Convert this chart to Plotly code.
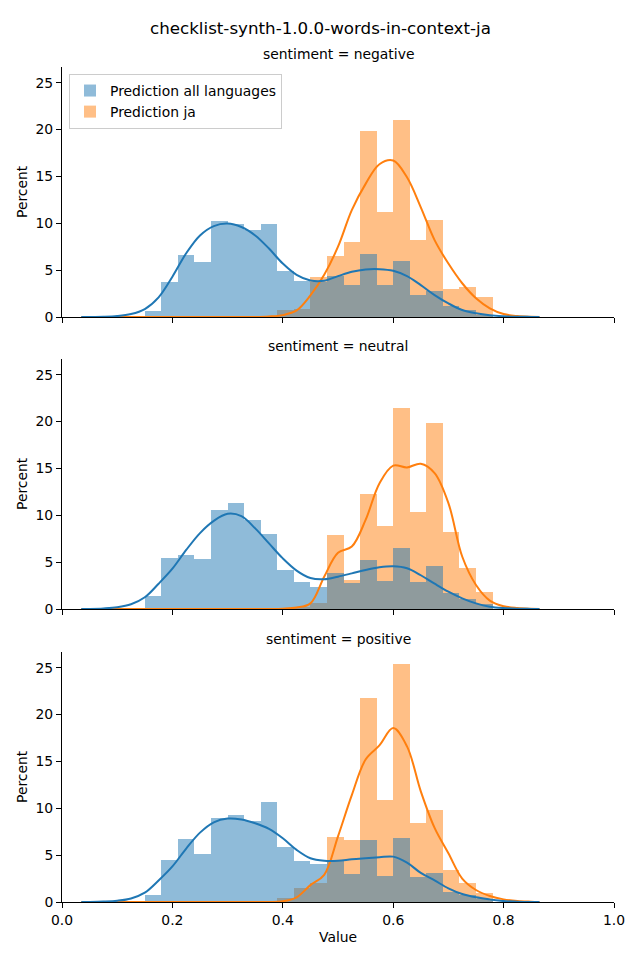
import plotly.graph_objects as go

# ---------------- data ----------------
title = "checklist-synth-1.0.0-words-in-context-ja"
panels = ["negative", "neutral", "positive"]
series_names = ["Prediction all languages", "Prediction ja"]

bin_edges = [0.15, 0.18, 0.21, 0.24, 0.27, 0.30, 0.33, 0.36, 0.39, 0.42, 0.45,
             0.48, 0.51, 0.54, 0.57, 0.60, 0.63, 0.66, 0.69, 0.72, 0.75, 0.78]

# histogram heights (percent) per bin
all_negative = [0.67, 3.76, 6.6, 5.9, 10.2, 9.97, 9.26, 9.9, 4.93, 3.87, 3.7,
                4.36, 3.4, 6.7, 3.4, 5.96, 2.4, 2.8, 1.2, 0.7, 0.2]
ja_negative = [0, 0, 0, 0, 0, 0, 0, 0, 0.74, 0.9, 4.22,
               6.5, 7.98, 19.8, 11.17, 21.06, 8.19, 10.3, 2.98, 3.2, 2.13]

all_neutral = [1.39, 5.45, 5.77, 5.34, 10.58, 11.32, 9.5, 8.05, 4.17, 2.92, 2.35,
               3.85, 2.78, 5.23, 2.99, 6.52, 2.88, 4.59, 1.71, 1.07, 0.53]
ja_neutral = [0, 0, 0, 0, 0, 0, 0, 0, 0, 0.25, 0.64,
              7.9, 3.1, 12.3, 8.9, 21.47, 10.36, 19.87, 8.23, 4.38, 1.82]

all_positive = [0.75, 4.49, 6.73, 5.13, 8.97, 9.29, 8.65, 10.68, 5.88, 4.38, 4.06,
                4.38, 2.99, 6.62, 2.78, 6.84, 2.67, 3.1, 1.07, 0.75, 0.32]
ja_positive = [0, 0, 0, 0, 0, 0, 0, 0, 0.4, 1.5, 2.03,
               6.94, 6.62, 21.8, 10.9, 25.4, 8.44, 9.83, 3.42, 2.03, 0.96]

# KDE curves (percent scale) read at these values
kde_x = [0.035, 0.05, 0.075, 0.1, 0.125, 0.15, 0.175, 0.2, 0.225, 0.25, 0.275,
         0.3, 0.325, 0.35, 0.375, 0.4, 0.425, 0.45, 0.475, 0.5, 0.525, 0.55,
         0.575, 0.6, 0.625, 0.65, 0.675, 0.7, 0.725, 0.75, 0.775, 0.8, 0.825,
         0.85, 0.865]

kde_all_negative = [0, 0, 0.02, 0.1, 0.32, 0.85, 2.1, 4.3, 6.8, 8.7, 9.7,
                    9.97, 9.6, 8.7, 7.3, 5.7, 4.5, 3.9, 3.87, 4.36, 4.82, 5.07,
                    5.1, 4.93, 4.36, 3.4, 2.34, 1.45, 0.74, 0.39, 0.18, 0.08, 0.03,
                    0.01, 0]
kde_ja_negative = [0, 0, 0, 0, 0, 0, 0, 0, 0, 0, 0,
                   0, 0, 0, 0.05, 0.2, 0.7, 2.3, 4.5, 7.5, 11.4, 14.2,
                   16.3, 16.7, 14.9, 11.7, 8.2, 5.7, 3.6, 2.0, 0.93, 0.32, 0.1,
                   0.02, 0]

kde_all_neutral = [0, 0.01, 0.06, 0.18, 0.5, 1.25, 2.7, 4.3, 6.3, 8.1, 9.4,
                   10.15, 9.9, 8.6, 7.0, 5.4, 4.1, 3.3, 3.17, 3.45, 3.8, 4.17,
                   4.45, 4.56, 4.35, 3.6, 2.7, 1.85, 1.14, 0.6, 0.25, 0.1, 0.03,
                   0.01, 0]
kde_ja_neutral = [0, 0, 0, 0, 0, 0, 0, 0, 0, 0, 0,
                  0, 0, 0, 0, 0.03, 0.15, 0.6, 3.45, 6.0, 6.66, 9.5,
                  13.4, 15.3, 15.1, 15.5, 14.5, 11.3, 5.6, 2.56, 0.9, 0.3, 0.1,
                  0.02, 0]

kde_all_positive = [0, 0.01, 0.05, 0.14, 0.38, 1.0, 2.3, 3.8, 5.7, 7.4, 8.5,
                    8.9, 8.8, 8.4, 7.8, 6.8, 5.56, 4.67, 4.4, 4.4, 4.56, 4.67,
                    4.77, 4.84, 4.2, 3.1, 2.3, 1.46, 0.85, 0.5, 0.28, 0.1, 0.04,
                    0.01, 0]
kde_ja_positive = [0, 0, 0, 0, 0, 0, 0, 0, 0, 0, 0,
                   0, 0, 0, 0, 0.07, 0.5, 1.8, 2.9, 7.0, 11.4, 15.2,
                   16.7, 18.55, 16.6, 11.8, 7.9, 5.2, 2.5, 1.28, 0.64, 0.28, 0.1,
                   0.03, 0]

x_ticks = [0.0, 0.2, 0.4, 0.6, 0.8, 1.0]
x_tick_labels = ["0.0", "0.2", "0.4", "0.6", "0.8", "1.0"]
y_ticks = [0, 5, 10, 15, 20, 25]
y_tick_labels = ["0", "5", "10", "15", "20", "25"]

hist_all = [all_negative, all_neutral, all_positive]
hist_ja = [ja_negative, ja_neutral, ja_positive]
kde_all = [kde_all_negative, kde_all_neutral, kde_all_positive]
kde_ja = [kde_ja_negative, kde_ja_neutral, kde_ja_positive]

# ---------------- styling ----------------
BLUE = "#1f77b4"
ORANGE = "#ff7f0e"
BLUE_FILL = "rgba(31,119,180,0.5)"
ORANGE_FILL = "rgba(255,127,14,0.5)"
FONT = "DejaVu Sans"
OFF = 8                      # page body margin
W, H = 640 - OFF, 960 - OFF  # figure size so it fits the window


def px_x(p):
    return (p - OFF) / W


def px_y(p):
    return 1 - (p - OFF) / H


centers = [(a + b) / 2 for a, b in zip(bin_edges[:-1], bin_edges[1:])]
widths = [b - a for a, b in zip(bin_edges[:-1], bin_edges[1:])]

# panel boxes in window pixels
x_left_px, x_right_px = 62, 614
panel_px = [(67, 317), (359, 609), (652, 902)]

fig = go.Figure()

for i in range(3):
    xa = "x" if i == 0 else f"x{i+1}"
    ya = "y" if i == 0 else f"y{i+1}"
    fig.add_trace(go.Bar(x=centers, y=hist_ja[i], width=widths, xaxis=xa, yaxis=ya,
                         marker=dict(color=ORANGE_FILL, line=dict(width=0)),
                         name=series_names[1], legendgroup="ja", legendrank=2,
                         showlegend=(i == 0), hoverinfo="skip"))
    fig.add_trace(go.Bar(x=centers, y=hist_all[i], width=widths, xaxis=xa, yaxis=ya,
                         marker=dict(color=BLUE_FILL, line=dict(width=0)),
                         name=series_names[0], legendgroup="all", legendrank=1,
                         showlegend=(i == 0), hoverinfo="skip"))
    fig.add_trace(go.Scatter(x=kde_x, y=kde_ja[i], xaxis=xa, yaxis=ya, mode="lines",
                             line=dict(color=ORANGE, width=2, shape="spline", smoothing=1.0),
                             showlegend=False, hoverinfo="skip"))
    fig.add_trace(go.Scatter(x=kde_x, y=kde_all[i], xaxis=xa, yaxis=ya, mode="lines",
                             line=dict(color=BLUE, width=2, shape="spline", smoothing=1.0),
                             showlegend=False, hoverinfo="skip"))

layout_axes = {}
for i, (top, bot) in enumerate(panel_px):
    xkey = "xaxis" if i == 0 else f"xaxis{i+1}"
    ykey = "yaxis" if i == 0 else f"yaxis{i+1}"
    yanchor = "y" if i == 0 else f"y{i+1}"
    xanchor = "x" if i == 0 else f"x{i+1}"
    layout_axes[xkey] = dict(
        domain=[px_x(x_left_px), px_x(x_right_px)], range=[0, 1], anchor=yanchor,
        showline=True, linecolor="black", linewidth=1, mirror=False,
        ticks="outside", ticklen=5, tickwidth=1, tickcolor="black",
        tickvals=x_ticks, ticktext=x_tick_labels, showticklabels=(i == 2),
        showgrid=False, zeroline=False, automargin=False,
        tickfont=dict(size=13.9, color="black", family=FONT))
    layout_axes[ykey] = dict(
        domain=[px_y(bot), px_y(top)], range=[0, 26.67], anchor=xanchor,
        showline=True, linecolor="black", linewidth=1, mirror=False,
        ticks="outside", ticklen=5, tickwidth=1, tickcolor="black",
        tickvals=y_ticks, ticktext=y_tick_labels,
        showgrid=False, zeroline=False, automargin=False,
        tickfont=dict(size=13.9, color="black", family=FONT))

annotations = [dict(text=title, x=px_x(320), y=px_y(28), xref="paper", yref="paper",
                    showarrow=False, xanchor="center", yanchor="middle",
                    font=dict(size=16.7, color="black", family=FONT))]
sub_title_y = [54, 346, 639]
for i, p in enumerate(panels):
    annotations.append(dict(text=f"sentiment = {p}", x=px_x((x_left_px + x_right_px) / 2),
                            y=px_y(sub_title_y[i]), xref="paper", yref="paper",
                            showarrow=False, xanchor="center", yanchor="middle",
                            font=dict(size=13.9, color="black", family=FONT)))
    top, bot = panel_px[i]
    annotations.append(dict(text="Percent", x=px_x(22), y=px_y((top + bot) / 2),
                            xref="paper", yref="paper", showarrow=False, textangle=-90,
                            xanchor="center", yanchor="middle",
                            font=dict(size=13.9, color="black", family=FONT)))
annotations.append(dict(text="Value", x=px_x((x_left_px + x_right_px) / 2), y=px_y(937),
                        xref="paper", yref="paper", showarrow=False,
                        xanchor="center", yanchor="middle",
                        font=dict(size=13.9, color="black", family=FONT)))

fig.update_layout(
    width=W, height=H,
    margin=dict(l=0, r=0, t=0, b=0),
    paper_bgcolor="white", plot_bgcolor="white",
    barmode="overlay", bargap=0,
    font=dict(family=FONT, size=13.9, color="black"),
    showlegend=True,
    legend=dict(x=px_x(69), y=px_y(74), xanchor="left", yanchor="top",
                bgcolor="rgba(255,255,255,0.8)", bordercolor="#cccccc", borderwidth=1,
                font=dict(size=13.9, color="black", family=FONT),
                traceorder="normal", itemwidth=30, tracegroupgap=0),
    annotations=annotations,
    **layout_axes,
)

fig.write_html("out.html")
